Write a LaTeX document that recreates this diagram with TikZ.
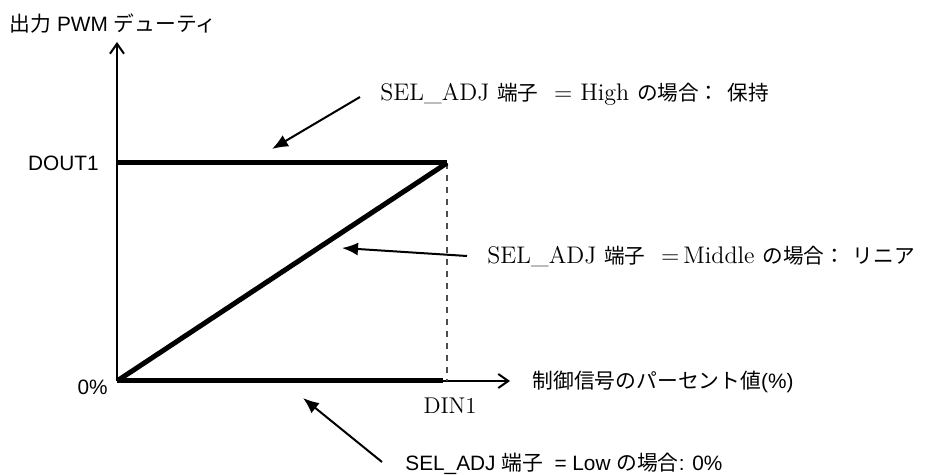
\documentclass[tikz,border=0pt]{standalone}
\usepackage{fontspec}
\setsansfont{Liberation Sans}
\newfontfamily\jp{Noto Sans CJK JP}
\newfontfamily\jpr[Scale=0.86]{Noto Sans CJK JP}
\usetikzlibrary{arrows.meta}

\begin{document}
\begin{tikzpicture}[x=0.5pt, y=-0.5pt,
  axis/.style={line width=1pt, -{Straight Barb[length=5pt,width=7pt]}},
  duty/.style={line width=2.5pt},
  callout/.style={line width=1pt, -{Latex[length=8pt,width=6.5pt]}},
  sanslabel/.style={font=\fontsize{10.4}{12.5}\selectfont\sffamily, inner sep=0pt},
  serlabel/.style={font=\fontsize{12}{14}\selectfont\rmfamily, inner sep=0pt}]
\useasboundingbox (0,0) rectangle (931,475);
\coordinate (O) at (117,381);
\coordinate (ytip) at (117,42);
\coordinate (xtip) at (510,381);
\coordinate (dout) at (117,163);
\coordinate (hiend) at (447,163);
\coordinate (dinx) at (447,381);
\coordinate (loend) at (443,381);
% axes
\draw [axis] (O) -- (ytip);
\draw [axis] (O) -- (xtip);
\draw [dashed, gray!60!black, line width=0.6pt] (hiend) -- (dinx);
% duty curves
\draw [duty] (dout) -- (hiend);
\draw [duty] (O) -- (hiend);
\draw [duty] (O) -- (loend);
% axis labels
\node [sanslabel] (ylab) at (113,24) {{\jp 出力} PWM {\jp デューティ}};
\node [sanslabel, anchor=east] (doutlab) at (99,163) {DOUT1};
\node [sanslabel, anchor=east] (zerolab) at (108,387) {0\%};
\node [serlabel, font=\fontsize{11.4}{14}\selectfont] (dinlab) at (450,406) {DIN1};
\node [sanslabel, anchor=west] (xlab) at (532,382) {{\jp 制御信号のパーセント値}(\%)};
% mode labels
\node [serlabel, anchor=west] (hilab) at (380,94) {SEL\_ADJ\ {\jpr 端子}\ \ = High {\jpr の場合：}\ {\jpr 保持}};
\node [serlabel, anchor=west] (midlab) at (487,256) {SEL\_ADJ\ {\jpr 端子}\ \ =\,Middle {\jpr の場合：}\ {\jpr リニア}};
\node [sanslabel, anchor=west] (lolab) at (405,464) {SEL\_ADJ {\jp 端子}\ \ = Low {\jp の場合}: 0\%};
\coordinate (hitip) at (272,149);
\coordinate (midtip) at (342,248);
\coordinate (lotip) at (303,398);
\draw [callout] ([shift={(-20,3)}]hilab.west) -- (hitip);
\draw [callout] ([shift={(-20,0)}]midlab.west) -- (midtip);
\draw [callout] ([shift={(-23,-2)}]lolab.west) -- (lotip);
\end{tikzpicture}
\end{document}
